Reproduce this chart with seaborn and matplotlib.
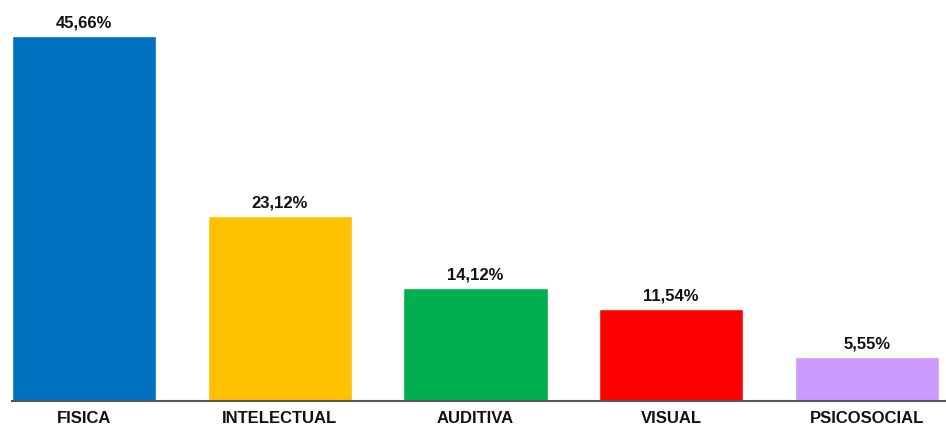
import matplotlib
matplotlib.use("Agg")
import matplotlib.pyplot as plt
import seaborn as sns
import pandas as pd
from matplotlib import font_manager

categories = ["FISICA", "INTELECTUAL", "AUDITIVA", "VISUAL", "PSICOSOCIAL"]
values = [45.66, 23.12, 14.12, 11.54, 5.55]
labels = ["45,66%", "23,12%", "14,12%", "11,54%", "5,55%"]
colors = ["#0070C0", "#FFC000", "#00B050", "#FF0000", "#CC99FF"]

sns.set_style("white")
names = {f.name for f in font_manager.fontManager.ttflist}
fam = ["Liberation Sans Narrow", "DejaVu Sans"] if "Liberation Sans Narrow" in names else ["Liberation Sans", "DejaVu Sans"]
plt.rcParams["font.family"] = fam

df = pd.DataFrame({"cat": categories, "val": values})
fig = plt.figure(figsize=(9.46, 4.30), dpi=100)
ax = fig.add_axes([12/946, (430-401)/430, (946-12)/946, (50*7.99)/430])
sns.barplot(data=df, x="cat", y="val", hue="cat", palette=colors, width=0.736,
            legend=False, ax=ax, saturation=1)
ax.set_xlim(-0.368, 4.404)
ax.set_ylim(0, 50)
for i, (v, l) in enumerate(zip(values, labels)):
    ax.text(i, v + 0.7, l, ha="center", va="bottom", fontsize=12, fontweight="bold", color="#111111")
for s in ["top", "right", "left"]:
    ax.spines[s].set_visible(False)
ax.spines["bottom"].set_color("#555555")
ax.spines["bottom"].set_linewidth(1.5)
ax.set_yticks([])
ax.set_xlabel("")
ax.set_ylabel("")
ax.tick_params(axis="x", length=0, pad=7)
for t in ax.get_xticklabels():
    t.set_fontsize(12)
    t.set_fontweight("bold")
    t.set_color("#111111")
fig.savefig("out.png", dpi=100)
